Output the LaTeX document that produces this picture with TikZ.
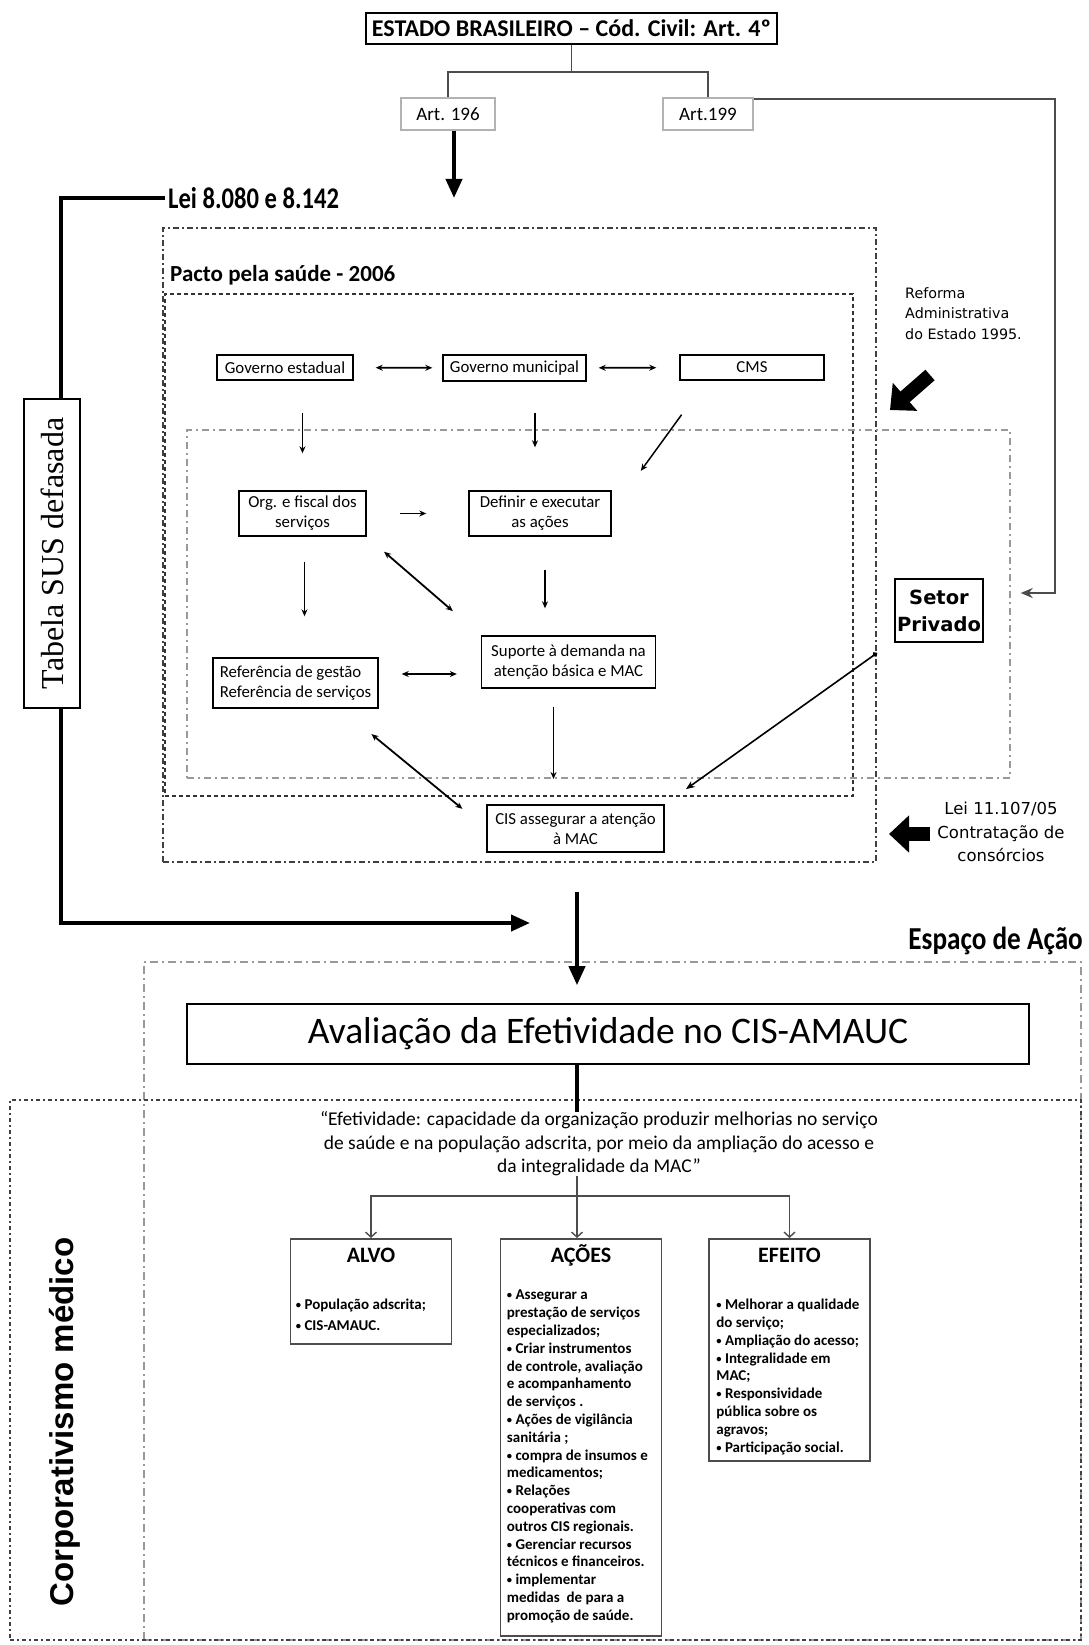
\documentclass[tikz,border=0pt]{standalone}
\usepackage{fontspec}
\usepackage{graphicx}
\setmainfont{Carlito}
\newfontfamily\dejavu{DejaVu Sans}
\newfontfamily\libsans{Liberation Sans}
\newfontfamily\libserif{Liberation Serif}
\usetikzlibrary{arrows.meta,positioning}
\newcommand{\bul}{\raisebox{0.15ex}{\scalebox{0.7}{•}}\ }
\begin{document}
\begin{tikzpicture}[x=1pt,y=-1pt,
	smallbox/.style={draw, line width=1.4pt, inner sep=2pt, align=center, font=\fontsize{16.8}{20}\selectfont},
	artbox/.style={draw=gray!60, line width=2.5pt, inner sep=2pt, font=\fontsize{19}{22}\selectfont},
	catbox/.style={draw=black!70, line width=1.6pt, minimum width=161pt, anchor=north},
	cattitle/.style={font=\bfseries\fontsize{22}{24}\selectfont},
	listtext/.style={anchor=north west, inner sep=0pt, align=left, font=\bfseries\fontsize{15}{17.8}\selectfont},
	frm/.style={inner sep=0pt, line width=2pt},
	treeline/.style={draw=gray!60!black, line width=1.4pt},
	treearrow/.style={treeline, -{Straight Barb[length=5pt,width=11pt]}},
	conn/.style={line width=1.5pt, -{Stealth[length=7pt,width=6pt]}},
	dbl/.style={line width=1.8pt, {Stealth[length=7pt,width=6pt]}-{Stealth[length=7pt,width=6pt]}},
	heavy/.style={line width=4pt},
	fat/.style={line width=4pt, -{Triangle[length=19pt,width=16pt]}},
	bigarrow/.style={line width=14pt, -{Triangle[length=20pt,width=36pt]}}]
	\useasboundingbox (0,0) rectangle (1088,1645);

	\node (leibox) [frm, draw=black!75, dash pattern=on 6pt off 3pt on 2pt off 3pt, minimum width=713pt, minimum height=634pt] at (519.5,545) {};
	\node (pactobox) [frm, draw=black!80, dash pattern=on 4pt off 3pt, minimum width=688pt, minimum height=502pt] at (509,545) {};
	\node (gestbox) [frm, draw=gray!80, dash pattern=on 7pt off 4pt on 2pt off 4pt, minimum width=823pt, minimum height=348pt] at (598.5,604) {};
	\node (espacobox) [frm, draw=gray!80, line width=1.6pt, dash pattern=on 8pt off 4pt on 2pt off 4pt, minimum width=937pt, minimum height=678pt] at (612.5,1301) {};
	\node (corpbox) [frm, draw=black!75, line width=1.6pt, dash pattern=on 4pt off 3pt on 2pt off 3pt, minimum width=1071pt, minimum height=540pt] at (545.5,1370) {};

	\node (estado) [smallbox, line width=2pt, font=\bfseries\fontsize{24}{26}\selectfont, minimum width=411pt, minimum height=31pt] at (571.5,28.5) {ESTADO BRASILEIRO – Cód. Civil: Art. 4º};
	\node (art196) [artbox, minimum width=94pt, minimum height=32pt] at (448,114) {Art. 196};
	\node (art199) [artbox, minimum width=90pt, minimum height=32pt] at (708,114) {Art.199};
	\draw[treeline] (estado.south) -- ++(0,27) coordinate (split);
	\draw[treeline] (split) -| (art196.north);
	\draw[treeline] (split) -| (art199.north);

	\node (lei) [anchor=west, inner sep=0pt] at (168,198) {\scalebox{0.82}[1]{\bfseries\fontsize{30}{30}\selectfont Lei 8.080 e 8.142}};
	\node (pacto) [anchor=west, inner sep=0pt, font=\bfseries\fontsize{23}{26}\selectfont] at (170,275) {Pacto pela saúde - 2006};
	\node (espaco) [anchor=east, inner sep=0pt] at (1083,941) {\scalebox{0.85}[1]{\bfseries\fontsize{32}{32}\selectfont Espaço de Ação}};
	\node (reforma) [anchor=north west, align=left, inner sep=0pt, font=\dejavu\fontsize{14.3}{20.5}\selectfont] at (905,287) {Reforma\\Administrativa\\do Estado 1995.};
	\node (lei11) [align=center, inner sep=0pt, font=\dejavu\fontsize{16.5}{23.5}\selectfont] at (1001,832) {Lei 11.107/05\\Contratação de\\consórcios};

	\coordinate (lb) at (61,923);
	\coordinate (leitip) at (530,923);
	\draw[fat] ([xshift=-3pt]lei.west) -| (lb) -- (leitip);
	\node (tabela) [draw, fill=white, line width=2.5pt, rotate=90, inner sep=0pt, minimum width=309pt, minimum height=56pt, font=\libserif\fontsize{32}{32}\selectfont] at (52,553.5) {Tabela SUS defasada};
	\draw[fat, shorten >=29pt] ([xshift=6pt]art196.south) -- ([xshift=6pt]art196.south |- leibox.north);

	\node (govest) [smallbox, minimum width=136pt, minimum height=25pt] at (285,367.5) {Governo estadual};
	\node (govmun) [smallbox, minimum width=143pt, minimum height=26pt] at (514.5,368) {Governo municipal};
	\node (cms) [smallbox, minimum width=144pt, minimum height=25pt] at (752,367.5) {CMS};
	\node (org) [smallbox, minimum width=127pt, minimum height=45pt] at (302.5,513.5) {Org. e fiscal dos\\serviços};
	\node (definir) [smallbox, minimum width=142pt, minimum height=45pt] at (540,513.5) {Definir e executar\\as ações};
	\node (suporte) [smallbox, minimum width=174pt, minimum height=52pt] at (568.5,662) {Suporte à demanda na\\atenção básica e MAC};
	\node (refer) [smallbox, align=left, minimum width=165pt, minimum height=50pt] at (295.5,683) {Referência de gestão\\Referência de serviços};
	\node (cis) [smallbox, minimum width=177pt, minimum height=47pt] at (575.5,828.5) {CIS assegurar a atenção\\à MAC};
	\node (setor) [smallbox, font=\dejavu\bfseries\fontsize{19.5}{27}\selectfont, minimum width=88pt, minimum height=63pt] at (939,610.5) {Setor\\Privado};

	\draw[dbl, shorten <=22pt, shorten >=10pt] (govest) -- (govmun);
	\draw[dbl, shorten <=12pt, shorten >=23pt] (govmun) -- (cms);
	\draw[conn, shorten <=32pt, shorten >=37pt] (org.north |- govest.south) -- (org.north);
	\draw[conn, shorten <=31pt, shorten >=43pt] ([xshift=-5pt]definir.north |- govmun.south) -- ([xshift=-5pt]definir.north);
	\draw[conn, shorten <=42pt, shorten >=24pt] ([xshift=27pt]cms.south west) -- ([xshift=15pt]definir.north east);
	\draw[conn, shorten <=33pt, shorten >=42pt] (org) -- (definir);
	\draw[conn, shorten <=25pt, shorten >=41pt] ([xshift=2pt]org.south) -- ([xshift=2pt]org.south |- refer.north);
	\draw[dbl, shorten <=23pt, shorten >=37pt] (org.south east) -- (suporte.north west);
	\draw[conn, shorten <=33pt, shorten >=27pt] ([xshift=5pt]definir.south) -- ([xshift=5pt]definir.south |- suporte.north);
	\draw[dbl, shorten <=23pt, shorten >=24pt] ([yshift=9pt]refer.east) -- ([yshift=9pt]refer.east -| suporte.west);
	\draw[conn, shorten <=18pt] ([xshift=-15pt]suporte.south) -- ([xshift=-15pt]suporte.south |- gestbox.south);
	\draw[dbl, shorten <=31pt, shorten >=40pt] (cis.west) -- ([xshift=45pt]refer.south);

	\coordinate (sp) at (877,653);
	\draw[line width=1.6pt, {Circle[length=5pt]}-{Stealth[length=9pt,width=7pt]}, shorten >=26pt] (sp) -- (cis.north east);
	\coordinate (rgt) at (1055,593);
	\draw[gray!60!black, line width=2pt, -{Stealth[length=12pt,width=10pt,fill=black]}, shorten >=37pt] ([yshift=-2pt]art199.north east) -| (rgt) -- (rgt -| setor.east);

	\coordinate (refa) at (930,375);
	\coordinate (refb) at (890,410);
	\draw[bigarrow] (refa) -- (refb);
	\coordinate (cona) at (930,834);
	\coordinate (conb) at (889,834);
	\draw[bigarrow] (cona) -- (conb);

	\node (aval) [smallbox, line width=1.6pt, font=\fontsize{37.5}{40}\selectfont, minimum width=842pt, minimum height=60pt] at (608,1034) {Avaliação da Efetividade no CIS-AMAUC};
	\coordinate (dn) at (577,892);
	\draw[fat, shorten >=18pt] (dn) -- (dn |- aval.north);
	\node (quote) [align=center, inner sep=0pt, font=\fontsize{19.5}{23.5}\selectfont] at (599,1144) {“Efetividade: capacidade da organização produzir melhorias no serviço\\de saúde e na população adscrita, por meio da ampliação do acesso e\\da integralidade da MAC”};
	\draw[heavy] (aval.south -| dn) -- (dn |- quote.north);
	\coordinate (fork) at (577,1196);
	\draw[treeline] (dn |- quote.south) -- (fork);

	\node (alvo) [catbox, minimum height=105pt] at (371,1238) {};
	\node (acoes) [catbox, minimum height=397pt] at (581,1238) {};
	\node (efeito) [catbox, minimum height=222pt] at (789.5,1238) {};
	\draw[treearrow] (fork) -| (alvo.north);
	\draw[treearrow] (fork) -- (fork |- acoes.north);
	\draw[treearrow] (fork) -| (efeito.north);
	\node (alvot) [cattitle] at ([yshift=-17pt]alvo.north) {ALVO};
	\node (acoest) [cattitle] at ([yshift=-17pt]acoes.north) {AÇÕES};
	\node (efeitot) [cattitle] at ([yshift=-17pt]efeito.north) {EFEITO};
	\node (alvol) [listtext] at ([xshift=6pt,yshift=-61pt]alvo.north west) {\bul População adscrita;\\[3pt]\bul CIS-AMAUC.};
	\node (acoesl) [listtext] at ([xshift=7pt,yshift=-52pt]acoes.north west) {\bul Assegurar a\\prestação de serviços\\especializados;\\\bul Criar instrumentos\\de controle, avaliação\\e acompanhamento\\de serviços .\\\bul Ações de vigilância\\sanitária ;\\\bul compra de insumos e\\medicamentos;\\\bul Relações\\cooperativas com\\outros CIS regionais.\\\bul Gerenciar recursos\\técnicos e financeiros.\\\bul implementar\\medidas\ \ de para a\\promoção de saúde.};
	\node (efeitol) [listtext] at ([xshift=8pt,yshift=-61pt]efeito.north west) {\bul Melhorar a qualidade\\do serviço;\\\bul Ampliação do acesso;\\\bul Integralidade em\\MAC;\\\bul Responsividade\\pública sobre os\\agravos;\\\bul Participação social.};

	\node (corp) [rotate=90, font=\libsans\bfseries\fontsize{33}{33}\selectfont] at (65,1422) {Corporativismo médico};
\end{tikzpicture}
\end{document}
